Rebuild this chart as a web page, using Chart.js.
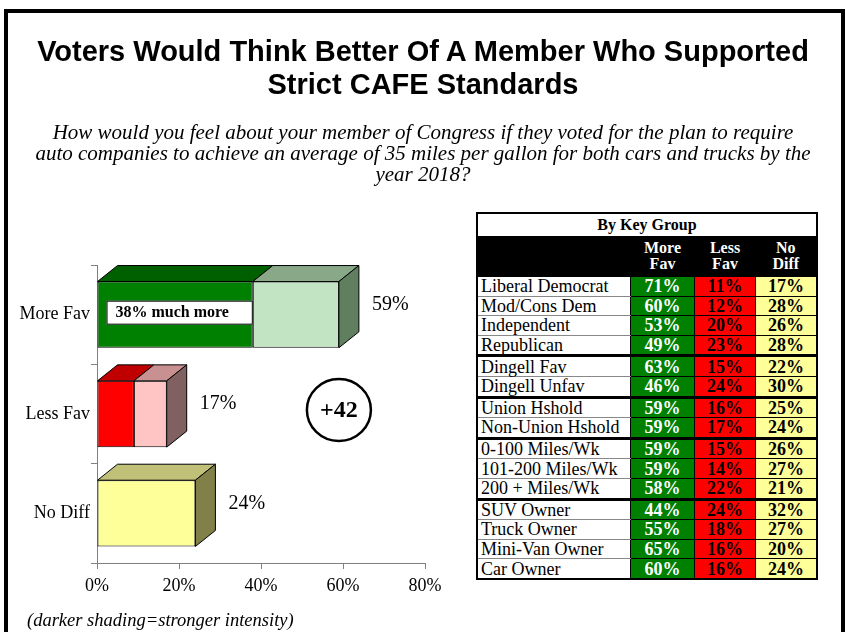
<!DOCTYPE html>
<html>
<head>
<meta charset="utf-8">
<script src="https://cdn.jsdelivr.net/npm/chart.js@4.4.1/dist/chart.umd.min.js"></script>
<style>
  body { margin: 0; background: #fff; }
  #page { position: relative; width: 846px; height: 632px; overflow: hidden; background: #fff; }
  #frame { position: absolute; left: 4px; top: 9px; width: 833px; height: 700px; border: 4px solid #000; }
  #chart { position: absolute; left: 0; top: 0; }
  #title { position: absolute; left: 0; top: 35px; width: 846px; text-align: center;
           font: bold 29px 'Liberation Sans', Arial, sans-serif; line-height: 33px; color: #000; }
  #question { position: absolute; left: 10px; top: 122px; width: 826px; text-align: center;
              font: italic 21px 'Liberation Serif', 'Times New Roman', serif; line-height: 21px; color: #000; }
  #note { position: absolute; left: 27px; top: 610px; font: italic 18.5px 'Liberation Serif', serif; color: #000; }
  #groups { position: absolute; left: 476px; top: 212px; width: 342px; border-collapse: collapse;
            border: 2px solid #000; font-family: 'Liberation Serif', 'Times New Roman', serif; background: #fff; }
  #groups td, #groups th { padding: 0; }
  #groups .cap { height: 22px; font: bold 16px 'Liberation Serif', serif; text-align: center; }
  #groups .head th { background: #000; color: #fff; height: 40px; font: bold 16px 'Liberation Serif', serif;
                     line-height: 16px; text-align: center; }
  #groups .row td { height: 18.6px; line-height: 18px; border-bottom: 1px solid #888; }
  #groups .row td.lbl { font-size: 18px; padding-left: 3px; white-space: nowrap; width: 149px; }
  #groups .row td.v { font-weight: bold; font-size: 18px; text-align: center; border: 1px solid #000; }
  #groups .row.brk td { border-top: 3px solid #000; }
  #groups td.g { background: #008000; color: #fff; width: 63px; }
  #groups td.r { background: #ff0000; color: #000; width: 60px; }
  #groups td.y { background: #ffff99; color: #000; }
</style>
</head>
<body>
<div id="page">
  <div id="frame"></div>
  <canvas id="chart" width="846" height="632"></canvas>
  <div id="title">Voters Would Think Better Of A Member Who Supported<br>Strict CAFE Standards</div>
  <div id="question">How would you feel about your member of Congress if they voted for the plan to require<br>auto companies to achieve an average of 35 miles per gallon for both cars and trucks by the<br>year 2018?</div>
  <table id="groups"></table>
  <div id="note">(darker shading=stronger intensity)</div>
</div>
<script>
// 左のグラフ
const categories = ['More Fav', 'Less Fav', 'No Diff'];
const strongValues = [38, 9, 24];
const weakValues = [21, 8, 0];
const xTicks = [0, 20, 40, 60, 80];
const muchMoreText = '38% much more';

// 右の表
const groupNames = ['Liberal Democrat', 'Mod/Cons Dem', 'Independent', 'Republican',
  'Dingell Fav', 'Dingell Unfav', 'Union Hshold', 'Non-Union Hshold',
  '0-100 Miles/Wk', '101-200 Miles/Wk', '200 + Miles/Wk',
  'SUV Owner', 'Truck Owner', 'Mini-Van Owner', 'Car Owner'];
const moreFav = [71, 60, 53, 49, 63, 46, 59, 59, 59, 59, 58, 44, 55, 65, 60];
const lessFav = [11, 12, 20, 23, 15, 24, 16, 17, 15, 14, 22, 24, 18, 16, 16];
const noDiff = [17, 28, 26, 28, 22, 30, 25, 24, 26, 27, 21, 32, 27, 20, 24];
const groupStarts = [4, 6, 8, 11];

// 色
const frontColors = [['#008000', '#ff0000', '#ffff99'], ['#c2e4c2', '#ffc4c4', '#ffff99']];
const topColors = [['#006000', '#c00000', '#c0c078'], ['#88a888', '#c89090', '#c0c078']];
const sideColors = ['#5f7f5f', '#806060', '#808048'];
const serif = "'Liberation Serif', 'Times New Roman', serif";

// 表を作る
function buildTable() {
  const t = document.getElementById('groups');
  let html = '<tr><td class="cap" colspan="4">By Key Group</td></tr>';
  html += '<tr class="head"><th></th><th>More<br>Fav</th><th>Less<br>Fav</th><th>No<br>Diff</th></tr>';
  groupNames.forEach((name, i) => {
    const cls = groupStarts.includes(i) ? 'row brk' : 'row';
    html += `<tr class="${cls}"><td class="lbl">${name}</td>` +
      `<td class="v g">${moreFav[i]}%</td><td class="v r">${lessFav[i]}%</td><td class="v y">${noDiff[i]}%</td></tr>`;
  });
  t.innerHTML = html;
}
buildTable();

// 立体の箱と注記
const boxPlugin = {
  id: 'box3d',
  afterDatasetsDraw(chart) {
    const ctx = chart.ctx;
    const dx = 20, dy = 16;
    const xs = chart.scales.x, ys = chart.scales.y;
    ctx.save();
    ctx.lineWidth = 1;
    ctx.strokeStyle = '#000';
    categories.forEach((c, i) => {
      let last = null;
      chart.data.datasets.forEach((ds, d) => {
        if (!ds.data[i]) return;
        const el = chart.getDatasetMeta(d).data[i];
        const left = Math.min(el.base, el.x), right = Math.max(el.base, el.x);
        const top = el.y - el.height / 2;
        ctx.beginPath();
        ctx.moveTo(left, top);
        ctx.lineTo(left + dx, top - dy);
        ctx.lineTo(right + dx, top - dy);
        ctx.lineTo(right, top);
        ctx.closePath();
        ctx.fillStyle = topColors[d][i];
        ctx.fill();
        ctx.stroke();
        last = { right, top, bottom: el.y + el.height / 2, y: el.y };
      });
      if (!last) return;
      ctx.beginPath();
      ctx.moveTo(last.right, last.top);
      ctx.lineTo(last.right + dx, last.top - dy);
      ctx.lineTo(last.right + dx, last.bottom - dy);
      ctx.lineTo(last.right, last.bottom);
      ctx.closePath();
      ctx.fillStyle = sideColors[i];
      ctx.fill();
      ctx.stroke();
      // 合計ラベル
      const total = strongValues[i] + weakValues[i];
      ctx.fillStyle = '#000';
      ctx.font = '20px ' + serif;
      ctx.textAlign = 'left';
      ctx.textBaseline = 'middle';
      ctx.fillText(total + '%', last.right + dx + 13, last.y - 10);
    });

    // 38% much more の白い箱
    const el0 = chart.getDatasetMeta(0).data[0];
    const bx = el0.base + 9, by = el0.y - 14;
    ctx.fillStyle = '#fff';
    ctx.fillRect(bx, by, el0.x - bx, 24);
    ctx.strokeRect(bx + 0.5, by + 0.5, el0.x - bx - 1, 23);
    ctx.fillStyle = '#000';
    ctx.font = 'bold 16px ' + serif;
    ctx.textAlign = 'left';
    ctx.textBaseline = 'middle';
    ctx.fillText(muchMoreText, bx + 9, by + 12);

    // 差の丸
    const net = (strongValues[0] + weakValues[0]) - (strongValues[1] + weakValues[1]);
    const cx = xs.getPixelForValue(59), cy = ys.getPixelForValue(1) - 4;
    ctx.beginPath();
    ctx.ellipse(cx, cy, 32, 31, 0, 0, Math.PI * 2);
    ctx.lineWidth = 2.5;
    ctx.stroke();
    ctx.font = 'bold 24px ' + serif;
    ctx.textAlign = 'center';
    ctx.fillText('+' + net, cx, cy + 1);
    ctx.restore();
  }
};

new Chart(document.getElementById('chart'), {
  type: 'bar',
  data: {
    labels: categories,
    datasets: [
      { label: 'Strong', data: strongValues, backgroundColor: frontColors[0], borderColor: '#000', borderWidth: 1, borderSkipped: false },
      { label: 'Weak', data: weakValues, backgroundColor: frontColors[1], borderColor: '#000', borderWidth: 1, borderSkipped: false }
    ]
  },
  options: {
    indexAxis: 'y',
    responsive: false,
    animation: false,
    layout: { padding: { left: 0, top: 265, right: 421, bottom: 29 } },
    plugins: { legend: { display: false }, tooltip: { enabled: false } },
    datasets: { bar: { categoryPercentage: 1, barPercentage: 0.667 } },
    scales: {
      x: {
        stacked: true,
        min: 0,
        max: 80,
        afterBuildTicks: s => { s.ticks = xTicks.map(v => ({ value: v })); },
        afterFit: s => { s.height = 40; },
        ticks: { color: '#000', font: { family: serif, size: 18 }, padding: 6, callback: v => v + '%' },
        grid: { drawOnChartArea: false, tickLength: 6, color: '#808080' },
        border: { color: '#808080' }
      },
      y: {
        stacked: true,
        afterFit: s => { s.width = 97; },
        ticks: { color: '#000', font: { family: serif, size: 18 }, padding: 1 },
        grid: { offset: true, drawOnChartArea: false, tickLength: 6, color: '#808080' },
        border: { color: '#808080' }
      }
    }
  },
  plugins: [boxPlugin]
});
</script>
</body>
</html>
